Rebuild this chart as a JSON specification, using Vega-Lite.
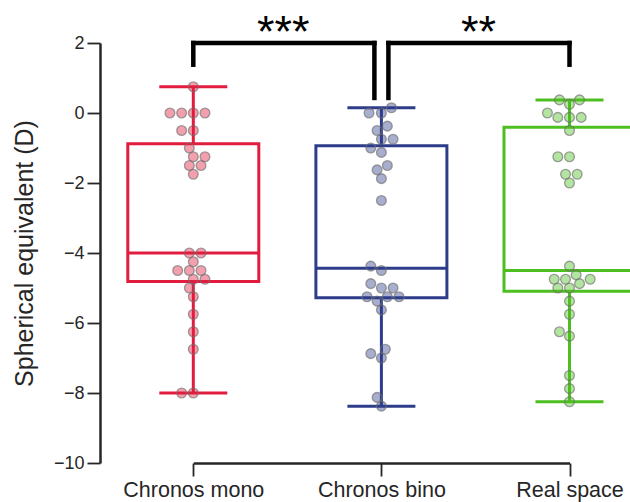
{
  "$schema": "https://vega.github.io/schema/vega-lite/v6.json",
  "width": 530,
  "height": 420,
  "autosize": {"type": "none"},
  "padding": {"left": 100, "top": 43, "right": 0, "bottom": 39},
  "config": {
    "view": {"stroke": null},
    "font": "Liberation Sans",
    "locale": {"number": {"decimal": ".", "thousands": ",", "grouping": [3], "currency": ["$", ""], "minus": "\u2212"}},
    "axis": {"grid": false},
    "axisY": {"tickSize": 13, "tickWidth": 1.8, "tickColor": "#262626", "domainColor": "#262626", "domainWidth": 2.5, "labelFontSize": 18, "labelColor": "#262626", "labelPadding": 3, "titleFontSize": 25, "titleFontWeight": "normal", "titleColor": "#262626", "titlePadding": 16}
  },
  "datasets": {
    "points": [
      {"group": "Chronos mono", "se": 0.75, "dx": 0},
      {"group": "Chronos mono", "se": 0, "dx": -2},
      {"group": "Chronos mono", "se": 0, "dx": -1},
      {"group": "Chronos mono", "se": 0, "dx": 0},
      {"group": "Chronos mono", "se": 0, "dx": 1},
      {"group": "Chronos mono", "se": -0.5, "dx": -1},
      {"group": "Chronos mono", "se": -0.5, "dx": 0},
      {"group": "Chronos mono", "se": -1.0, "dx": -0.34},
      {"group": "Chronos mono", "se": -1.25, "dx": 0},
      {"group": "Chronos mono", "se": -1.25, "dx": 1},
      {"group": "Chronos mono", "se": -1.5, "dx": -0.34},
      {"group": "Chronos mono", "se": -1.5, "dx": 0.66},
      {"group": "Chronos mono", "se": -1.75, "dx": 0},
      {"group": "Chronos mono", "se": -4.0, "dx": -0.34},
      {"group": "Chronos mono", "se": -4.0, "dx": 0.66},
      {"group": "Chronos mono", "se": -4.25, "dx": 0},
      {"group": "Chronos mono", "se": -4.5, "dx": -1.34},
      {"group": "Chronos mono", "se": -4.5, "dx": -0.34},
      {"group": "Chronos mono", "se": -4.5, "dx": 0.66},
      {"group": "Chronos mono", "se": -4.75, "dx": 0},
      {"group": "Chronos mono", "se": -4.75, "dx": 1},
      {"group": "Chronos mono", "se": -5.0, "dx": -0.34},
      {"group": "Chronos mono", "se": -5.25, "dx": 0},
      {"group": "Chronos mono", "se": -5.75, "dx": 0},
      {"group": "Chronos mono", "se": -6.25, "dx": 0},
      {"group": "Chronos mono", "se": -6.75, "dx": 0},
      {"group": "Chronos mono", "se": -8.0, "dx": -1},
      {"group": "Chronos mono", "se": -8.0, "dx": 0},
      {"group": "Chronos bino", "se": 0.15, "dx": 0.86},
      {"group": "Chronos bino", "se": 0, "dx": -1.06},
      {"group": "Chronos bino", "se": 0, "dx": 0},
      {"group": "Chronos bino", "se": -0.375, "dx": 0.51},
      {"group": "Chronos bino", "se": -0.5, "dx": -0.37},
      {"group": "Chronos bino", "se": -0.75, "dx": 0},
      {"group": "Chronos bino", "se": -0.75, "dx": 1},
      {"group": "Chronos bino", "se": -1.0, "dx": -0.91},
      {"group": "Chronos bino", "se": -1.125, "dx": 0},
      {"group": "Chronos bino", "se": -1.5, "dx": 0.51},
      {"group": "Chronos bino", "se": -1.625, "dx": -0.37},
      {"group": "Chronos bino", "se": -1.875, "dx": 0},
      {"group": "Chronos bino", "se": -2.5, "dx": 0},
      {"group": "Chronos bino", "se": -4.375, "dx": -0.91},
      {"group": "Chronos bino", "se": -4.5, "dx": 0},
      {"group": "Chronos bino", "se": -4.875, "dx": -0.91},
      {"group": "Chronos bino", "se": -5.0, "dx": 0},
      {"group": "Chronos bino", "se": -5.0, "dx": 1},
      {"group": "Chronos bino", "se": -5.25, "dx": -1.23},
      {"group": "Chronos bino", "se": -5.25, "dx": 0.51},
      {"group": "Chronos bino", "se": -5.25, "dx": 1.51},
      {"group": "Chronos bino", "se": -5.375, "dx": -0.37},
      {"group": "Chronos bino", "se": -5.625, "dx": 0},
      {"group": "Chronos bino", "se": -6.75, "dx": 0.34},
      {"group": "Chronos bino", "se": -6.875, "dx": -0.91},
      {"group": "Chronos bino", "se": -7.0, "dx": 0},
      {"group": "Chronos bino", "se": -8.125, "dx": -0.37},
      {"group": "Chronos bino", "se": -8.375, "dx": 0},
      {"group": "Real space", "se": 0.375, "dx": -0.86},
      {"group": "Real space", "se": 0.375, "dx": 0.86},
      {"group": "Real space", "se": 0.25, "dx": 0},
      {"group": "Real space", "se": 0, "dx": -1.89},
      {"group": "Real space", "se": -0.125, "dx": -1},
      {"group": "Real space", "se": -0.125, "dx": 0},
      {"group": "Real space", "se": -0.125, "dx": 1},
      {"group": "Real space", "se": -0.5, "dx": 0},
      {"group": "Real space", "se": -1.25, "dx": -1},
      {"group": "Real space", "se": -1.25, "dx": 0},
      {"group": "Real space", "se": -1.75, "dx": -0.34},
      {"group": "Real space", "se": -1.75, "dx": 0.66},
      {"group": "Real space", "se": -2.0, "dx": 0},
      {"group": "Real space", "se": -4.375, "dx": 0},
      {"group": "Real space", "se": -4.625, "dx": 0.57},
      {"group": "Real space", "se": -4.75, "dx": -1.31},
      {"group": "Real space", "se": -4.75, "dx": -0.34},
      {"group": "Real space", "se": -4.75, "dx": 1.77},
      {"group": "Real space", "se": -4.875, "dx": 0.86},
      {"group": "Real space", "se": -5.0, "dx": -1},
      {"group": "Real space", "se": -5.0, "dx": 0},
      {"group": "Real space", "se": -5.375, "dx": 0},
      {"group": "Real space", "se": -5.75, "dx": 0},
      {"group": "Real space", "se": -6.25, "dx": -0.86},
      {"group": "Real space", "se": -6.375, "dx": 0},
      {"group": "Real space", "se": -7.5, "dx": 0},
      {"group": "Real space", "se": -7.875, "dx": 0},
      {"group": "Real space", "se": -8.25, "dx": 0}
    ],
    "brackets": [
      {"pair": "a", "x1": "Chronos mono", "x2": "Chronos bino", "top": 2, "left": 1.38, "right": 0.43, "label": "***"},
      {"pair": "b", "x1": "Chronos bino", "x2": "Real space", "top": 2, "left": 0.43, "right": 1.38, "label": "**"}
    ]
  },
  "layer": [
    {
      "data": {"name": "points"},
      "transform": [
        {"aggregate": [
          {"op": "min", "field": "se", "as": "lo"},
          {"op": "q1", "field": "se", "as": "q1"},
          {"op": "median", "field": "se", "as": "med"},
          {"op": "q3", "field": "se", "as": "q3"},
          {"op": "max", "field": "se", "as": "hi"}
        ], "groupby": ["group"]}
      ],
      "encoding": {
        "x": {"field": "group", "type": "nominal",
          "scale": {"type": "point", "domain": ["Chronos mono", "Chronos bino", "Real space"], "range": [93.3, 469.5], "padding": 0},
          "axis": {"title": null, "labelAngle": 0, "tickSize": 13, "tickWidth": 1.8, "tickColor": "#262626", "domainColor": "#262626", "domainWidth": 2.5, "labelFontSize": 21.5, "labelColor": "#262626", "labelPadding": 3}},
        "color": {"field": "group", "type": "nominal", "scale": {"domain": ["Chronos mono", "Chronos bino", "Real space"], "range": ["#e21c3f", "#2e3d8a", "#4dbf20"]}, "legend": null}
      },
      "layer": [
        {"mark": {"type": "rule", "strokeWidth": 3}, "encoding": {"y": {"field": "hi", "type": "quantitative", "title": "Spherical equivalent (D)",
          "scale": {"domain": [-10, 2], "nice": false, "zero": false},
          "axis": {"values": [-10, -8, -6, -4, -2, 0, 2]}}, "y2": {"field": "q3"}}},
        {"mark": {"type": "rule", "strokeWidth": 3}, "encoding": {"y": {"field": "lo", "type": "quantitative", "title": "Spherical equivalent (D)"}, "y2": {"field": "q1"}}},
        {"mark": {"type": "bar", "size": 131, "fillOpacity": 0, "strokeWidth": 3},
          "encoding": {"y": {"field": "q1", "type": "quantitative", "title": "Spherical equivalent (D)"}, "y2": {"field": "q3"},
            "stroke": {"field": "group", "type": "nominal", "scale": {"domain": ["Chronos mono", "Chronos bino", "Real space"], "range": ["#e21c3f", "#2e3d8a", "#4dbf20"]}, "legend": null}}},
        {"mark": {"type": "tick", "size": 131, "thickness": 3, "opacity": 1}, "encoding": {"y": {"field": "med", "type": "quantitative", "title": "Spherical equivalent (D)"}}},
        {"mark": {"type": "tick", "size": 68, "thickness": 3, "opacity": 1}, "encoding": {"y": {"field": "hi", "type": "quantitative", "title": "Spherical equivalent (D)"}}},
        {"mark": {"type": "tick", "size": 68, "thickness": 3, "opacity": 1}, "encoding": {"y": {"field": "lo", "type": "quantitative", "title": "Spherical equivalent (D)"}}}
      ]
    },
    {
      "data": {"name": "points"},
      "mark": {"type": "point", "filled": true, "size": 95, "fillOpacity": 0.42, "stroke": "#6e6e6e", "strokeOpacity": 0.65, "strokeWidth": 1.3},
      "encoding": {
        "x": {"field": "group", "type": "nominal"},
        "xOffset": {"field": "dx", "type": "quantitative", "scale": {"domain": [-1, 1], "range": [-11.67, 11.67]}},
        "y": {"field": "se", "type": "quantitative", "title": "Spherical equivalent (D)"},
        "fill": {"field": "group", "type": "nominal", "scale": {"domain": ["Chronos mono", "Chronos bino", "Real space"], "range": ["#e21c3f", "#2e3d8a", "#4dbf20"]}, "legend": null}
      }
    },
    {
      "data": {"name": "brackets"},
      "transform": [{"filter": "datum.pair === 'a'"}],
      "layer": [
        {"mark": {"type": "rule", "color": "black", "strokeWidth": 4.5, "strokeCap": "square", "x2Offset": -7},
          "encoding": {"x": {"field": "x1", "type": "nominal"}, "x2": {"field": "x2"}, "y": {"field": "top", "type": "quantitative", "title": "Spherical equivalent (D)"}}},
        {"mark": {"type": "rule", "color": "black", "strokeWidth": 4.5, "strokeCap": "square"},
          "encoding": {"x": {"field": "x1", "type": "nominal"}, "y": {"field": "top", "type": "quantitative", "title": "Spherical equivalent (D)"}, "y2": {"field": "left"}}},
        {"mark": {"type": "rule", "color": "black", "strokeWidth": 4.5, "strokeCap": "square", "xOffset": -7},
          "encoding": {"x": {"field": "x2", "type": "nominal"}, "y": {"field": "top", "type": "quantitative", "title": "Spherical equivalent (D)"}, "y2": {"field": "right"}}},
        {"mark": {"type": "text", "fontSize": 45, "font": "Liberation Sans", "color": "black", "baseline": "alphabetic", "align": "center", "dx": 90, "dy": 4},
          "encoding": {"x": {"field": "x1", "type": "nominal"}, "y": {"field": "top", "type": "quantitative", "title": "Spherical equivalent (D)"}, "text": {"field": "label"}}}
      ]
    },
    {
      "data": {"name": "brackets"},
      "transform": [{"filter": "datum.pair === 'b'"}],
      "layer": [
        {"mark": {"type": "rule", "color": "black", "strokeWidth": 4.5, "strokeCap": "square", "xOffset": 7},
          "encoding": {"x": {"field": "x1", "type": "nominal"}, "x2": {"field": "x2"}, "y": {"field": "top", "type": "quantitative", "title": "Spherical equivalent (D)"}}},
        {"mark": {"type": "rule", "color": "black", "strokeWidth": 4.5, "strokeCap": "square", "xOffset": 7},
          "encoding": {"x": {"field": "x1", "type": "nominal"}, "y": {"field": "top", "type": "quantitative", "title": "Spherical equivalent (D)"}, "y2": {"field": "left"}}},
        {"mark": {"type": "rule", "color": "black", "strokeWidth": 4.5, "strokeCap": "square"},
          "encoding": {"x": {"field": "x2", "type": "nominal"}, "y": {"field": "top", "type": "quantitative", "title": "Spherical equivalent (D)"}, "y2": {"field": "right"}}},
        {"mark": {"type": "text", "fontSize": 45, "font": "Liberation Sans", "color": "black", "baseline": "alphabetic", "align": "center", "dx": 97, "dy": 4},
          "encoding": {"x": {"field": "x1", "type": "nominal"}, "y": {"field": "top", "type": "quantitative", "title": "Spherical equivalent (D)"}, "text": {"field": "label"}}}
      ]
    }
  ]
}
